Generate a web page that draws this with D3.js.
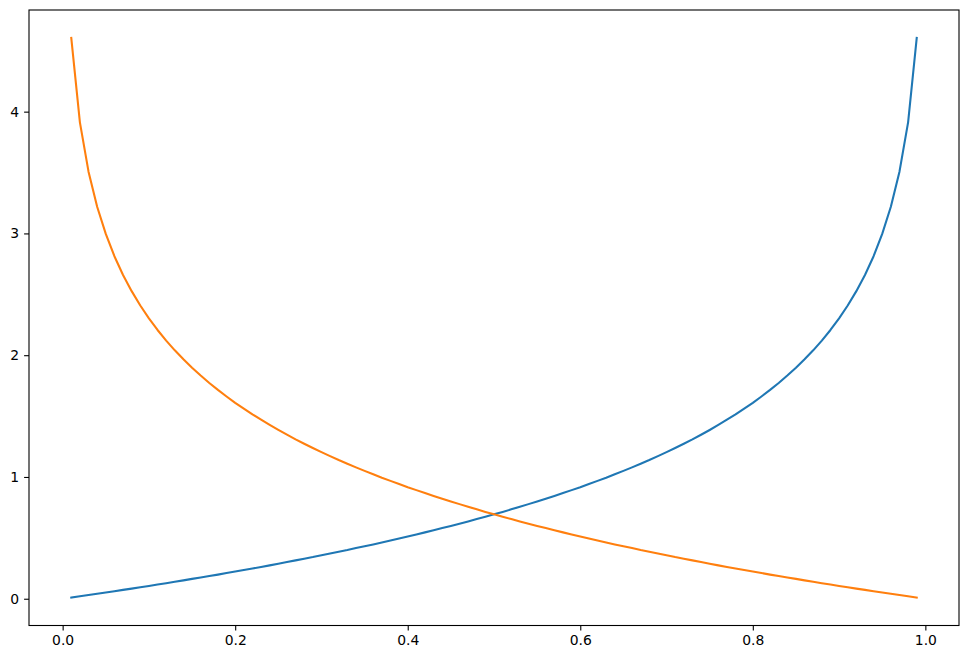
<!DOCTYPE html>
<html><head><meta charset="utf-8">
<script src="https://cdn.jsdelivr.net/npm/d3@7"></script>
<style>body{margin:0;background:#fff}svg{display:block}</style>
</head><body>
<svg id="chart" width="968" height="659"></svg>
<script>
const pValues = [0.01,0.02,0.03,0.04,0.05,0.06,0.07,0.08,0.09,0.10,0.11,0.12,0.13,0.14,0.15,0.16,0.17,0.18,0.19,0.20,
0.21,0.22,0.23,0.24,0.25,0.26,0.27,0.28,0.29,0.30,0.31,0.32,0.33,0.34,0.35,0.36,0.37,0.38,0.39,0.40,
0.41,0.42,0.43,0.44,0.45,0.46,0.47,0.48,0.49,0.50,0.51,0.52,0.53,0.54,0.55,0.56,0.57,0.58,0.59,0.60,
0.61,0.62,0.63,0.64,0.65,0.66,0.67,0.68,0.69,0.70,0.71,0.72,0.73,0.74,0.75,0.76,0.77,0.78,0.79,0.80,
0.81,0.82,0.83,0.84,0.85,0.86,0.87,0.88,0.89,0.90,0.91,0.92,0.93,0.94,0.95,0.96,0.97,0.98,0.99];

const blueValues = [0.010,0.020,0.030,0.041,0.051,0.062,0.073,0.083,0.094,0.105,0.117,0.128,0.139,0.151,0.163,0.174,0.186,0.198,0.211,0.223,
0.236,0.248,0.261,0.274,0.288,0.301,0.315,0.329,0.342,0.357,0.371,0.386,0.400,0.416,0.431,0.446,0.462,0.478,0.494,0.511,
0.528,0.545,0.562,0.580,0.598,0.616,0.635,0.654,0.673,0.693,0.713,0.734,0.755,0.777,0.799,0.821,0.844,0.868,0.892,0.916,
0.942,0.968,0.994,1.022,1.050,1.079,1.109,1.139,1.171,1.204,1.238,1.273,1.309,1.347,1.386,1.427,1.470,1.514,1.561,1.609,
1.661,1.715,1.772,1.833,1.897,1.966,2.040,2.120,2.207,2.303,2.408,2.526,2.659,2.813,2.996,3.219,3.507,3.912,4.605];

const orangeValues = [4.605,3.912,3.507,3.219,2.996,2.813,2.659,2.526,2.408,2.303,2.207,2.120,2.040,1.966,1.897,1.833,1.772,1.715,1.661,1.609,
1.561,1.514,1.470,1.427,1.386,1.347,1.309,1.273,1.238,1.204,1.171,1.139,1.109,1.079,1.050,1.022,0.994,0.968,0.942,0.916,
0.892,0.868,0.844,0.821,0.799,0.777,0.755,0.734,0.713,0.693,0.673,0.654,0.635,0.616,0.598,0.580,0.562,0.545,0.528,0.511,
0.494,0.478,0.462,0.446,0.431,0.416,0.400,0.386,0.371,0.357,0.342,0.329,0.315,0.301,0.288,0.274,0.261,0.248,0.236,0.223,
0.211,0.198,0.186,0.174,0.163,0.151,0.139,0.128,0.117,0.105,0.094,0.083,0.073,0.062,0.051,0.041,0.030,0.020,0.010];

const xTicks = [0.0, 0.2, 0.4, 0.6, 0.8, 1.0];
const xTickLabels = ["0.0", "0.2", "0.4", "0.6", "0.8", "1.0"];
const yTicks = [0, 1, 2, 3, 4];
const yTickLabels = ["0", "1", "2", "3", "4"];

const seriesColors = ["#1f77b4", "#ff7f0e"];

const svg = d3.select("#chart");
const L = 29, R = 959, T = 10, B = 625.5;

const xExt = d3.extent(pValues);
const xPad = (xExt[1] - xExt[0]) * 0.05;
const yAll = blueValues.concat(orangeValues);
const yExt = d3.extent(yAll);
const yPad = (yExt[1] - yExt[0]) * 0.05;

const x = d3.scaleLinear().domain([xExt[0] - xPad, xExt[1] + xPad]).range([L, R]);
const y = d3.scaleLinear().domain([yExt[0] - yPad, yExt[1] + yPad]).range([B, T]);

const line = d3.line().x(d => x(d[0])).y(d => y(d[1]));

[blueValues, orangeValues].forEach((vals, i) => {
  svg.append("path")
    .datum(pValues.map((p, j) => [p, vals[j]]))
    .attr("d", line)
    .attr("fill", "none")
    .attr("stroke", seriesColors[i])
    .attr("stroke-width", 2.08)
    .attr("stroke-linejoin", "round")
    .attr("stroke-linecap", "square");
});

const font = "DejaVu Sans, sans-serif";
const xAxis = d3.axisBottom(x).tickValues(xTicks).tickFormat((d, i) => xTickLabels[i]).tickSize(4.9).tickPadding(4.9);
const gx = svg.append("g").attr("transform", `translate(0,${B})`).call(xAxis);
const yAxis = d3.axisLeft(y).tickValues(yTicks).tickFormat((d, i) => yTickLabels[i]).tickSize(4.9).tickPadding(4.9);
const gy = svg.append("g").attr("transform", `translate(${L},0)`).call(yAxis);
[gx, gy].forEach(g => {
  g.select(".domain").remove();
  g.selectAll(".tick line").attr("stroke", "#000").attr("stroke-width", 1.1);
  g.selectAll(".tick text").attr("fill", "#000").style("font-family", font).style("font-size", "13.9px");
});

svg.append("rect").attr("x", L).attr("y", T).attr("width", R - L).attr("height", B - T)
  .attr("fill", "none").attr("stroke", "#000").attr("stroke-width", 1.1);
</script>
</body></html>
